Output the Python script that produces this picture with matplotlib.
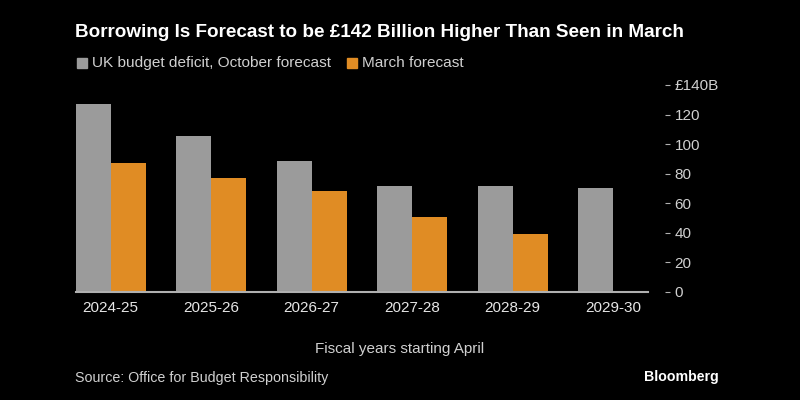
import numpy as np
import matplotlib.pyplot as plt

# data (GBP billions)
years = ["2024-25", "2025-26", "2026-27", "2027-28", "2028-29", "2029-30"]
october = [127.2, 105.3, 88.3, 71.8, 71.6, 70.3]
march = [87.0, 77.2, 68.4, 50.4, 39.1, np.nan]
yticks = [0, 20, 40, 60, 80, 100, 120, 140]
ytick_labels = ["0", "20", "40", "60", "80", "100", "120", "£140B"]

gray = "#9b9b9b"
orange = "#e08c24"
txt = "#d0d0d0"

plt.rcParams['font.family'] = ['Liberation Sans', 'DejaVu Sans']

fig = plt.figure(figsize=(8, 4), dpi=100, facecolor="black")
ax = fig.add_axes([0.0946, 0.2708, 0.7154, 0.5167])
ax.set_facecolor("black")

x = np.arange(len(years))
w = 0.348
ax.bar(x - w / 2, october, width=w, color=gray, linewidth=0)
ax.bar(x + w / 2, march, width=w, color=orange, linewidth=0)

ax.set_xlim(-w, len(years) - 1 + w)
ax.set_ylim(0, 140)

for s in ["top", "left", "right"]:
    ax.spines[s].set_visible(False)
ax.spines["bottom"].set_color("#b0b0b0")
ax.spines["bottom"].set_linewidth(1.5)

ax.set_xticks(x)
ax.set_xticklabels(years)
ax.tick_params(axis="x", length=0, pad=6.5, labelsize=11, labelcolor="#e6e6e6")

ax.yaxis.tick_right()
ax.spines["right"].set_position(("outward", 12))
ax.set_yticks(yticks)
ax.set_yticklabels(ytick_labels)
ax.tick_params(axis="y", length=3.6, width=0.8, color="#b0b0b0", pad=3.6,
               labelsize=11, labelcolor=txt)

# title, legend, notes
fig.text(0.094, 0.918, "Borrowing Is Forecast to be £142 Billion Higher Than Seen in March",
         color="white", fontsize=13.6, fontweight="bold", va="center", ha="left")

fig.patches.append(plt.Rectangle((0.0965, 0.831), 0.0125, 0.025, color=gray,
                                 transform=fig.transFigure, figure=fig))
fig.text(0.115, 0.843, "UK budget deficit, October forecast", color=txt,
         fontsize=11.1, va="center", ha="left")
fig.patches.append(plt.Rectangle((0.4335, 0.831), 0.0125, 0.025, color=orange,
                                 transform=fig.transFigure, figure=fig))
fig.text(0.452, 0.843, "March forecast", color=txt,
         fontsize=11.1, va="center", ha="left")

fig.text(0.4995, 0.127, "Fiscal years starting April", color=txt,
         fontsize=11, va="center", ha="center")
fig.text(0.094, 0.054, "Source: Office for Budget Responsibility", color=txt,
         fontsize=10.3, va="center", ha="left")
fig.text(0.899, 0.058, "Bloomberg", color="white", fontsize=10.2,
         fontweight="bold", va="center", ha="right")

fig.savefig("out.png", dpi=100, facecolor="black")
